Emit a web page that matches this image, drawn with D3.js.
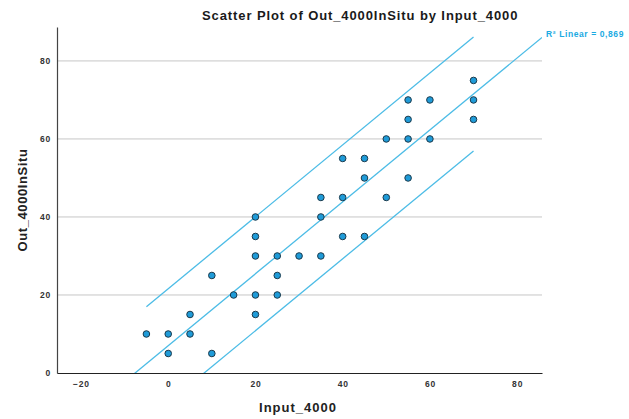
<!DOCTYPE html>
<html>
<head>
<meta charset="utf-8">
<script src="https://cdn.jsdelivr.net/npm/d3@7"></script>
<style>
  html, body { margin: 0; padding: 0; background: #fff; }
  svg text { font-family: "Liberation Sans", Arial, sans-serif; }
</style>
</head>
<body>
<svg id="chart" width="629" height="419"></svg>
<script>
// Observations: Input_4000 vs Out_4000InSitu
const inputValues = [-5, 0, 0, 5, 5, 10, 10, 15, 20, 20, 20, 20, 20, 25, 25, 25, 30, 35, 35, 35,
                     40, 40, 40, 45, 45, 45, 50, 50, 55, 55, 55, 55, 60, 60, 70, 70, 70];
const outputValues = [10, 10, 5, 15, 10, 25, 5, 20, 40, 35, 30, 20, 15, 30, 25, 20, 30, 45, 40, 30,
                      55, 45, 35, 55, 50, 35, 60, 45, 70, 65, 60, 50, 70, 60, 75, 70, 65];

// Linear fit and 95% prediction band
const fitIntercept = 7.0;
const fitSlope = 0.922;
const bandHalfWidth = 14.6;
const rSquaredLabel = "R\u00b2 Linear = 0,869";

const xTicks = [-20, 0, 20, 40, 60, 80];
const yTicks = [0, 20, 40, 60, 80];

const svg = d3.select("#chart");
const plotLeft = 57, plotRight = 542, plotTop = 27, plotBottom = 373;

const x = d3.scaleLinear().domain([-25.5, 85.7]).range([plotLeft, plotRight]);
const y = d3.scaleLinear().domain([0, 88.7]).range([plotBottom, plotTop]);

// horizontal gridlines
svg.append("g").selectAll("line")
  .data(yTicks.filter(d => d > 0))
  .join("line")
  .attr("x1", plotLeft).attr("x2", plotRight)
  .attr("y1", d => y(d)).attr("y2", d => y(d))
  .attr("stroke", "#c6c6c6").attr("stroke-width", 1);

// axes
const yAxis = svg.append("g").attr("transform", `translate(${plotLeft},0)`)
  .call(d3.axisLeft(y).tickValues(yTicks).tickSize(0).tickPadding(6));
const xAxis = svg.append("g").attr("transform", `translate(0,${plotBottom})`)
  .call(d3.axisBottom(x).tickValues(xTicks).tickSize(0).tickPadding(8));
yAxis.select(".domain").attr("stroke", "#444").attr("stroke-width", 1.2);
xAxis.select(".domain").attr("stroke", "#222").attr("stroke-width", 1.2);
[yAxis, xAxis].forEach(g => g.selectAll(".tick text")
  .attr("font-family", "Liberation Sans, Arial, sans-serif")
  .attr("font-size", 8.5).attr("font-weight", "bold")
  .attr("letter-spacing", "0.8px").attr("fill", "#333"));

// fit line and band, clipped to the plot area
svg.append("clipPath").attr("id", "plotClip")
  .append("rect").attr("x", plotLeft).attr("y", plotTop)
  .attr("width", plotRight - plotLeft).attr("height", plotBottom - plotTop);

const lineGen = d3.line().x(d => x(d[0])).y(d => y(d[1]));
const xMin = d3.min(inputValues), xMax = d3.max(inputValues);
const fitAt = v => fitIntercept + fitSlope * v;
const lines = [
  [[x.domain()[0], fitAt(x.domain()[0])], [x.domain()[1], fitAt(x.domain()[1])]],
  [[xMin, fitAt(xMin) + bandHalfWidth], [xMax, fitAt(xMax) + bandHalfWidth]],
  [[xMin, fitAt(xMin) - bandHalfWidth], [xMax, fitAt(xMax) - bandHalfWidth]]
];
svg.append("g").attr("clip-path", "url(#plotClip)")
  .selectAll("path").data(lines).join("path")
  .attr("d", lineGen)
  .attr("fill", "none").attr("stroke", "#4cbce6").attr("stroke-width", 1.3);

// points
svg.append("g").selectAll("circle")
  .data(inputValues.map((v, i) => [v, outputValues[i]]))
  .join("circle")
  .attr("cx", d => x(d[0])).attr("cy", d => y(d[1]))
  .attr("r", 3.3)
  .attr("fill", "#1f9bd8").attr("stroke", "#1b3a4c").attr("stroke-width", 1);

// titles
svg.append("text").attr("x", 202).attr("y", 20)
  .attr("font-size", 13).attr("font-weight", "bold").attr("letter-spacing", "0.9px")
  .attr("fill", "#1a1a1a")
  .text("Scatter Plot of Out_4000InSitu by Input_4000");

svg.append("text").attr("x", 298).attr("y", 412).attr("text-anchor", "middle")
  .attr("font-size", 13).attr("font-weight", "bold").attr("letter-spacing", "1px")
  .attr("fill", "#222").text("Input_4000");

svg.append("text").attr("transform", "translate(27,200) rotate(-90)")
  .attr("text-anchor", "middle")
  .attr("font-size", 13).attr("font-weight", "bold").attr("letter-spacing", "0.6px")
  .attr("fill", "#222").text("Out_4000InSitu");

svg.append("text").attr("x", 546).attr("y", 37)
  .attr("font-size", 8.5).attr("font-weight", "bold").attr("letter-spacing", "0.6px")
  .attr("fill", "#1aaae2").text(rSquaredLabel);
</script>
</body>
</html>
